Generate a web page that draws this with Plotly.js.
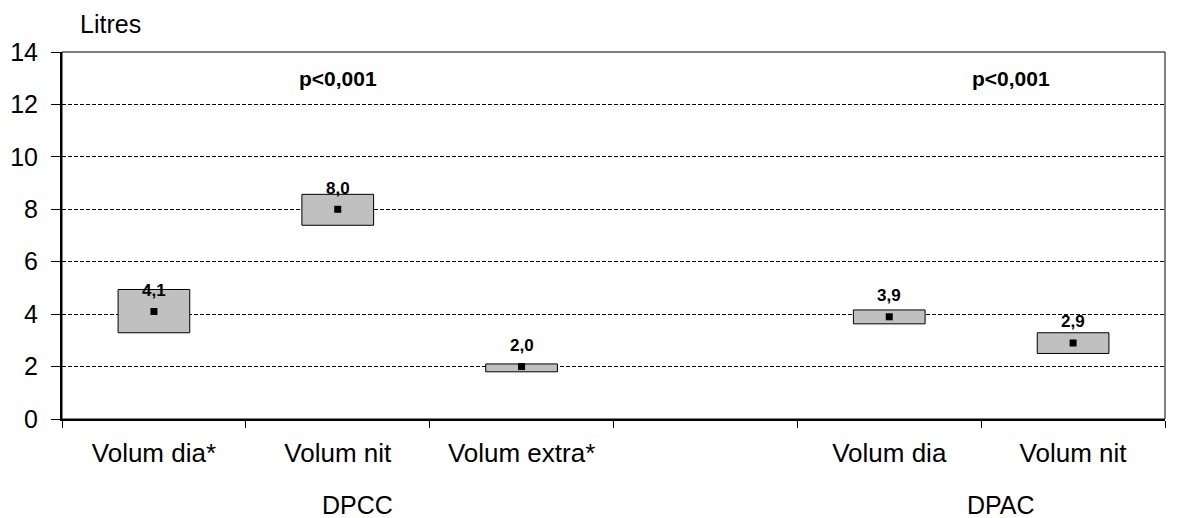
<!DOCTYPE html>
<html>
<head>
<meta charset="utf-8">
<script src="https://cdn.plot.ly/plotly-3.0.1.min.js"></script>
<style>html,body{margin:0;padding:0;background:#fff;}#chart{width:1181px;height:518px;}</style>
</head>
<body>
<div id="chart"></div>
<script>
// ---- data ----
const groups = ["DPCC", "DPCC", "DPCC", "DPAC", "DPAC"];
const categories = ["Volum dia*", "Volum nit", "Volum extra*", "Volum dia", "Volum nit"];
const lows = [3.29, 7.39, 1.80, 3.63, 2.50];
const highs = [4.94, 8.57, 2.10, 4.16, 3.29];
const means = [4.1, 8.0, 2.0, 3.9, 2.9];
const meanLabels = ["4,1", "8,0", "2,0", "3,9", "2,9"];
const groupNames = ["DPCC", "DPAC"];
const pLabels = ["p<0,001", "p<0,001"];
const yTitle = "Litres";

// ---- build category axis (unique ids, spacer between groups) ----
const ids = categories.map((c, i) => groups[i] + "|" + c);
const order = [];
const text = [];
groupNames.forEach((g, gi) => {
  if (gi > 0) { order.push("gap" + gi); text.push(""); }
  ids.forEach((id, i) => { if (groups[i] === g) { order.push(id); text.push(categories[i]); } });
});

const FONT = "Arial, 'Liberation Sans', sans-serif";

const boxes = {
  type: "bar",
  x: ids,
  y: highs.map((h, i) => h - lows[i]),
  base: lows,
  width: 0.39,
  marker: { color: "#c0c0c0", line: { color: "#000", width: 1 } },
  hoverinfo: "skip",
  showlegend: false
};
const meanPts = {
  type: "scatter",
  mode: "markers",
  x: ids,
  y: means,
  marker: { symbol: "square", size: 7, color: "#000" },
  showlegend: false
};

const annotations = [];
ids.forEach((id, i) => {
  annotations.push({
    x: id, y: means[i], xref: "x", yref: "y", yshift: 21,
    text: "<b>" + meanLabels[i] + "</b>", showarrow: false,
    font: { family: FONT, size: 17, color: "#000" }
  });
});
const pX = [1.0, 4.66];
groupNames.forEach((g, gi) => {
  const idx = order.map((o, k) => (groups[ids.indexOf(o)] === g ? k : null)).filter(k => k !== null);
  const center = idx.reduce((a, b) => a + b, 0) / idx.length;
  annotations.push({
    x: center, xref: "x", xshift: 20, y: 0, yref: "paper", yshift: -86, yanchor: "middle",
    text: g, showarrow: false, font: { family: FONT, size: 25, color: "#000" }
  });
  annotations.push({
    x: pX[gi], xref: "x", y: 13, yref: "y", yanchor: "middle",
    text: "<b>" + pLabels[gi] + "</b>", showarrow: false,
    font: { family: FONT, size: 21, color: "#000" }
  });
});
annotations.push({
  x: 0, xref: "paper", xshift: 16, xanchor: "left",
  y: 1, yref: "paper", yshift: 28, yanchor: "middle",
  text: yTitle, showarrow: false, font: { family: FONT, size: 25, color: "#000" }
});

const layout = {
  width: 1181, height: 518,
  margin: { l: 62, r: 16, t: 52, b: 99, pad: 0 },
  paper_bgcolor: "#fff", plot_bgcolor: "#fff",
  font: { family: FONT, size: 25, color: "#000" },
  showlegend: false,
  bargap: 0,
  xaxis: {
    type: "category",
    categoryorder: "array", categoryarray: order,
    tickmode: "array", tickvals: order, ticktext: text,
    tickson: "boundaries",
    ticks: "outside", ticklen: 7, tickwidth: 1, tickcolor: "#000",
    showline: true, linecolor: "#000", linewidth: 2,
    showgrid: false, zeroline: false,
    range: [-0.5, order.length - 0.5],
    ticklabelstandoff: 10,
    tickfont: { family: FONT, size: 26, color: "#000" }
  },
  yaxis: {
    range: [0, 14], dtick: 2, tick0: 0,
    ticks: "outside", ticklen: 9, tickwidth: 1, tickcolor: "#000",
    showline: true, linecolor: "#000", linewidth: 2,
    showgrid: true, gridcolor: "#000", gridwidth: 1, griddash: "4px,2px",
    zeroline: false,
    ticklabelstandoff: 8,
    tickfont: { family: FONT, size: 25, color: "#000" }
  },
  shapes: [{
    type: "rect", xref: "paper", yref: "paper", x0: 0, x1: 1, y0: 0, y1: 1,
    line: { color: "#000", width: 1 }, layer: "above"
  }],
  annotations: annotations
};

Plotly.newPlot("chart", [boxes, meanPts], layout, { staticPlot: true, displayModeBar: false });
</script>
</body>
</html>
